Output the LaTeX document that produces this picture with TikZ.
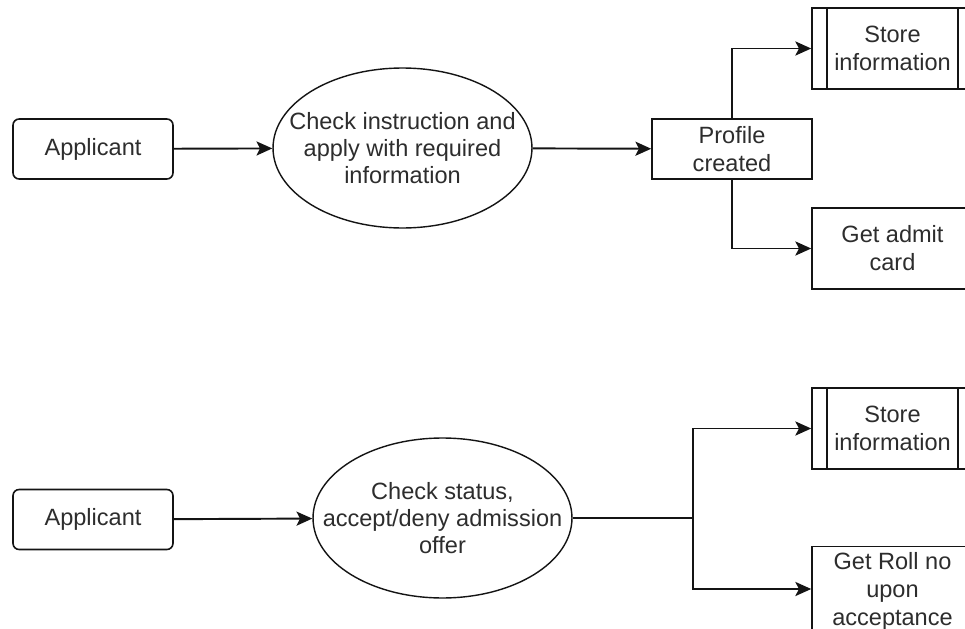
\documentclass[tikz,border=0pt]{standalone}
\usepackage{fontspec}
\setmainfont{Liberation Sans}
\usetikzlibrary{shapes,arrows.meta,positioning,calc}
\definecolor{textgray}{RGB}{45,45,45}
\definecolor{linegray}{RGB}{20,20,20}

\begin{document}
\begin{tikzpicture}[x=0.02cm,y=-0.02cm,
		box/.style={draw=linegray, line width=0.9pt, minimum width=3.2cm, minimum height=1.2cm, align=center, text=textgray, font=\fontsize{13.4}{16}\selectfont},
		actor/.style={box, rounded corners=3.5pt},
		task/.style={draw=linegray, line width=0.8pt, ellipse, inner xsep=-1cm, inner ysep=0pt, minimum width=5.18cm, minimum height=3.2cm, align=center, text=textgray, font=\fontsize{13.4}{15.6}\selectfont},
		store/.style={box, minimum width=3.22cm, minimum height=1.62cm},
		flow/.style={draw=linegray, line width=1.1pt, -{Stealth[length=9pt,width=8pt,inset=2pt]}}]
	\fill[white] (0,0) rectangle (965,629);
	\useasboundingbox (0,0) rectangle (965,629);

	% Registration
	\node[actor] (app1) at (93,149) {Applicant};
	\node[task] (apply) at (402.5,148) {Check instruction and\\apply with required\\information};
	\node[box] (profile) at (732,149) {Profile\\created};
	\node[store] (store1) at (892.5,48.5) {Store\\information};
	\draw[line width=0.9pt, draw=linegray] ([xshift=0.32cm]store1.north west) -- ([xshift=0.32cm]store1.south west);
	\draw[line width=0.9pt, draw=linegray] ([xshift=-0.32cm]store1.north east) -- ([xshift=-0.32cm]store1.south east);
	\node[store] (admit) at (892.5,248.5) {Get admit\\card};

	\draw[flow] (app1) -- (apply);
	\draw[flow] (apply) -- (profile);
	\draw[flow] (profile.north) |- (store1.west);
	\draw[flow] (profile.south) |- (admit.west);

	% Admission offer
	\node[actor] (app2) at (93,519.5) {Applicant};
	\node[task] (offer) at (442.5,518) {Check status,\\accept/deny admission\\offer};
	\node[store] (store2) at (892.5,428.5) {Store\\information};
	\draw[line width=0.9pt, draw=linegray] ([xshift=0.32cm]store2.north west) -- ([xshift=0.32cm]store2.south west);
	\draw[line width=0.9pt, draw=linegray] ([xshift=-0.32cm]store2.north east) -- ([xshift=-0.32cm]store2.south east);
	\node[store, text depth=0pt] (roll) at (892.5,589) {Get Roll no\\upon\\acceptance};
	\coordinate (split) at (693,518);

	\draw[flow] (app2) -- (offer);
	\draw[draw=linegray, line width=1.1pt] (offer.east) -- (split);
	\draw[flow] (split) |- (store2.west);
	\draw[flow] (split) |- (roll.west);
\end{tikzpicture}
\end{document}
